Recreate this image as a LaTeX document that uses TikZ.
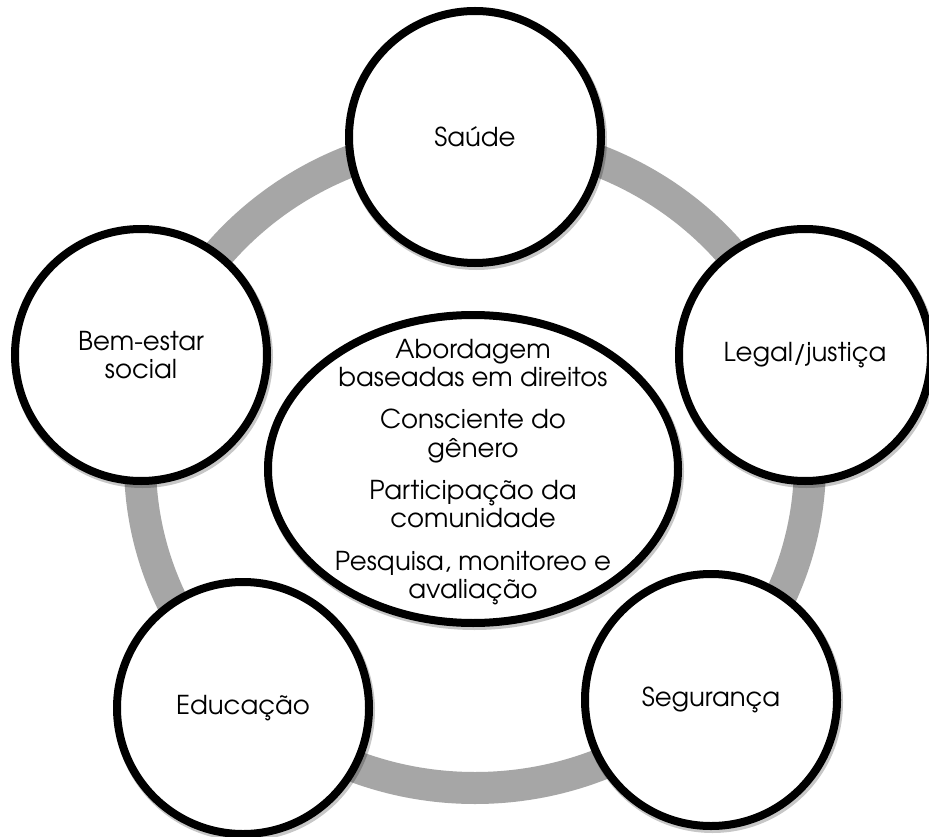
\documentclass[tikz,border=0pt]{standalone}
\usepackage{fontspec}
\setmainfont{TeX Gyre Adventor}
\usetikzlibrary{shapes.geometric}
\definecolor{ringgray}{RGB}{166,166,166}
\begin{document}
\begin{tikzpicture}[x=1pt,y=-1pt,
  shadowed/.style={preaction={draw=black, draw opacity=0.22, line width=9pt, transform canvas={xshift=1.5pt,yshift=-2.5pt}}},
  sat/.style={circle, draw=black, line width=8pt, fill=white, minimum size=252pt, inner sep=0pt, align=center, font=\fontsize{26}{28.5}\selectfont, shadowed},
  hub/.style={ellipse, draw=black, line width=8pt, fill=white, minimum width=410pt, minimum height=308pt, inner sep=0pt, shadowed},
  hubtext/.style={align=center, font=\fontsize{26}{28.3}\selectfont}
]
\useasboundingbox (0,0) rectangle (929,837);
\fill[white] (0,0) rectangle (929,837);
\draw[ringgray, line width=32pt] (475,463) ellipse [x radius=335, y radius=325];
\node[hub] (hub) at (473,469) {};
\node[hubtext] (hubtxt) at (473,472) {Abordagem\\baseadas em direitos\\[14pt]Consciente do\\gênero\\[14pt]Participação da\\comunidade\\[14pt]Pesquisa, monitoreo e\\avaliação};
\node[sat] (saude) at (475,137) {Saúde};
\node[sat] (legal) at (805,355) {Legal/justiça};
\node[sat] (bem) at (141,355) {Bem-estar\\social};
\node[sat] (edu) at (243,708) {Educação};
\node[sat] (seg) at (711,700) {Segurança};
\end{tikzpicture}
\end{document}
